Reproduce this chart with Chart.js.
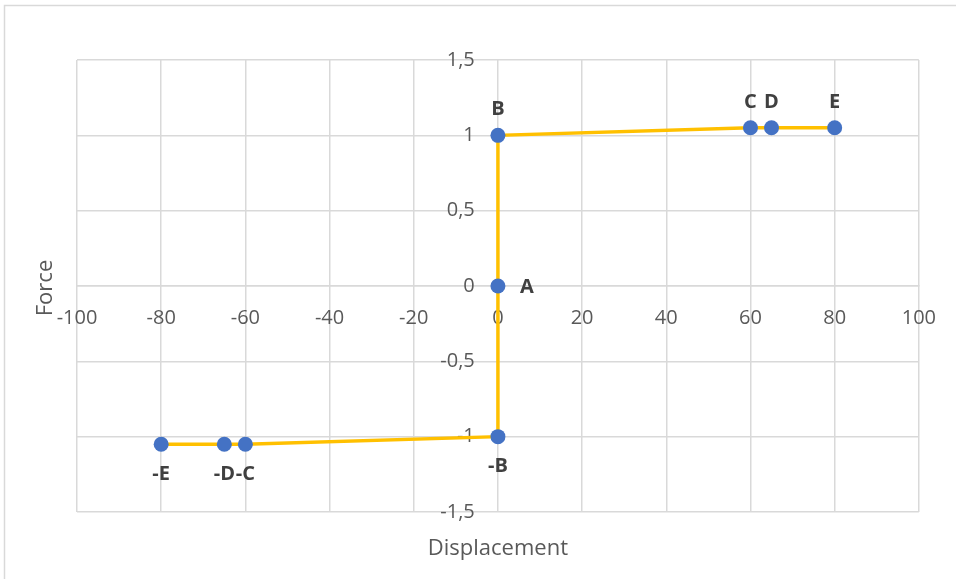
<!DOCTYPE html>
<html>
<head>
<meta charset="utf-8">
<script src="https://cdn.jsdelivr.net/npm/chart.js@4/dist/chart.umd.min.js"></script>
<style>
  html, body { margin: 0; padding: 0; background: #ffffff; }
  #wrap { width: 956px; height: 579px; position: relative; }
</style>
</head>
<body>
<div id="wrap"><canvas id="chart" width="956" height="579"></canvas></div>
<script>
// Force–displacement backbone curve, points ordered from -E to E
const pointNames   = ['-E', '-D', '-C', '-B', 'A', 'B', 'C', 'D', 'E'];
const displacement = [-80, -65, -60, 0, 0, 0, 60, 65, 80];
const force        = [-1.05, -1.05, -1.05, -1, 0, 1, 1.05, 1.05, 1.05];

// Axis ticks (decimal comma labels)
const xTickValues = [-100, -80, -60, -40, -20, 0, 20, 40, 60, 80, 100];
const xTickLabels = ['-100', '-80', '-60', '-40', '-20', '0', '20', '40', '60', '80', '100'];
const yTickValues = [-1.5, -1, -0.5, 0, 0.5, 1, 1.5];
const yTickLabels = ['-1,5', '-1', '-0,5', '0', '0,5', '1', '1,5'];

const xTitle = 'Displacement';
const yTitle = 'Force';

const FONT = '"Open Sans", "DejaVu Sans", sans-serif';
const GRID = '#d9d9d9';

const points = displacement.map((x, i) => ({ x: x, y: force[i] }));

function fixedTicks(values) {
  return function (scale) {
    scale.ticks = values.map(v => ({ value: v }));
  };
}
function labelFor(values, labels) {
  return function (value) {
    const i = values.indexOf(value);
    return i >= 0 ? labels[i] : '';
  };
}

const decor = {
  id: 'decor',
  beforeDraw(chart) {
    const ctx = chart.ctx;
    ctx.save();
    ctx.strokeStyle = GRID;
    ctx.lineWidth = 1.5;
    ctx.strokeRect(4.5, 5.5, 1000, 700);
    ctx.restore();
  },
  afterDatasetsDraw(chart) {
    const ctx = chart.ctx;
    const meta = chart.getDatasetMeta(0);
    ctx.save();
    ctx.fillStyle = '#404040';
    ctx.font = 'bold 20px ' + FONT;
    meta.data.forEach((el, i) => {
      const v = force[i];
      let x = el.x, y = el.y;
      if (v > 0) { ctx.textAlign = 'center'; ctx.textBaseline = 'middle'; y -= 26; }
      else if (v < 0) { ctx.textAlign = 'center'; ctx.textBaseline = 'middle'; y += 30; }
      else { ctx.textAlign = 'left'; ctx.textBaseline = 'middle'; x += 22; y += 1; }
      ctx.fillText(pointNames[i], x, y);
    });
    // axis titles
    const area = chart.chartArea;
    ctx.fillStyle = '#595959';
    ctx.font = '22px ' + FONT;
    ctx.textAlign = 'center';
    ctx.textBaseline = 'middle';
    ctx.fillText(xTitle, (area.left + area.right) / 2, 549);
    ctx.translate(46, (area.top + area.bottom) / 2 + 2);
    ctx.rotate(-Math.PI / 2);
    ctx.fillText(yTitle, 0, 0);
    ctx.restore();
  }
};

new Chart(document.getElementById('chart'), {
  type: 'scatter',
  data: {
    datasets: [{
      data: points,
      showLine: true,
      borderColor: '#FFC000',
      borderWidth: 3.5,
      pointBackgroundColor: '#4472C4',
      pointBorderColor: '#4472C4',
      pointRadius: 7.5,
      pointBorderWidth: 0,
      tension: 0
    }]
  },
  options: {
    responsive: false,
    animation: false,
    layout: { padding: { left: 77, right: 36, top: 60, bottom: 67 } },
    plugins: { legend: { display: false }, tooltip: { enabled: false } },
    scales: {
      x: {
        type: 'linear',
        position: { y: 0 },
        min: -100, max: 100,
        afterBuildTicks: fixedTicks(xTickValues),
        afterFit: s => { s.height = 0; },
        grid: { color: GRID, lineWidth: 1.5, drawTicks: false },
        border: { color: GRID, width: 1.5 },
        ticks: {
          callback: labelFor(xTickValues, xTickLabels),
          color: '#595959', font: { family: FONT, size: 20 },
          padding: 20, maxRotation: 0, autoSkip: false
        }
      },
      y: {
        type: 'linear',
        position: { x: -5.5 },
        min: -1.5, max: 1.5,
        afterBuildTicks: fixedTicks(yTickValues),
        afterFit: s => { s.width = 0; },
        grid: { color: GRID, lineWidth: 1.5, drawTicks: false },
        border: { display: false },
        ticks: {
          callback: labelFor(yTickValues, yTickLabels),
          color: '#595959', font: { family: FONT, size: 20 },
          autoSkip: false
        }
      }
    }
  },
  plugins: [decor]
});
</script>
</body>
</html>
